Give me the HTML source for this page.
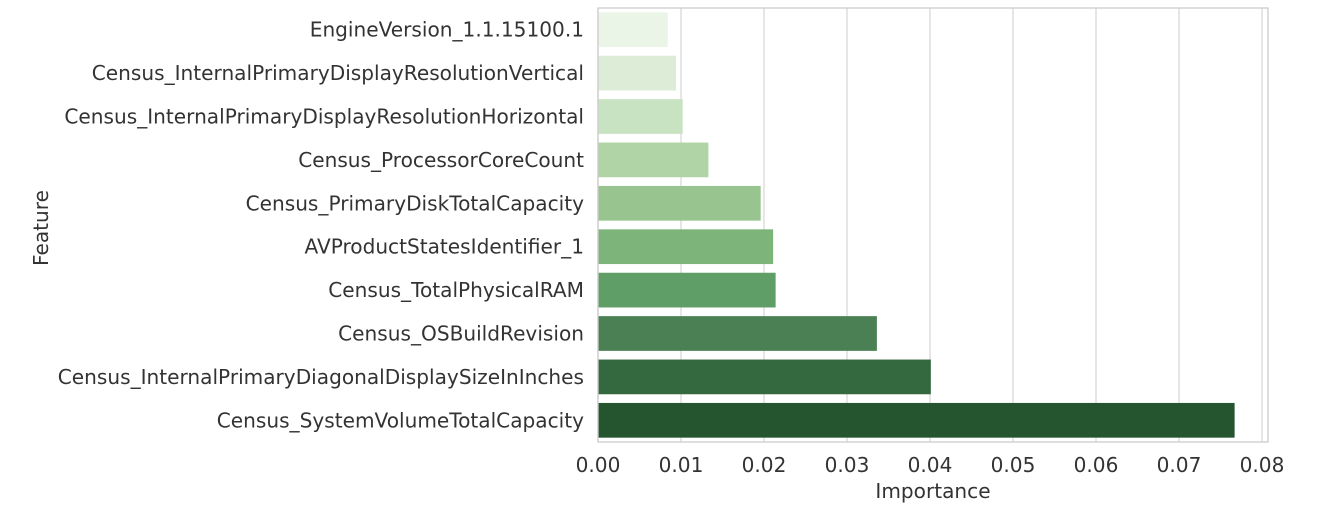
<!DOCTYPE html>
<html><head><meta charset="utf-8"><style>
body{margin:0;background:#fff;}
svg{display:block;font-family:"DejaVu Sans","Liberation Sans",sans-serif;}
</style></head><body>
<svg id="chart" width="1340" height="520"></svg>
<script>
const categories=["EngineVersion_1.1.15100.1","Census_InternalPrimaryDisplayResolutionVertical","Census_InternalPrimaryDisplayResolutionHorizontal","Census_ProcessorCoreCount","Census_PrimaryDiskTotalCapacity","AVProductStatesIdentifier_1","Census_TotalPhysicalRAM","Census_OSBuildRevision","Census_InternalPrimaryDiagonalDisplaySizeInInches","Census_SystemVolumeTotalCapacity"];
const values=[0.0084,0.0094,0.0102,0.0133,0.0196,0.0211,0.0214,0.0336,0.0401,0.0767];
const ticks=[0,0.01,0.02,0.03,0.04,0.05,0.06,0.07,0.08];
const tickLabels=["0.00","0.01","0.02","0.03","0.04","0.05","0.06","0.07","0.08"];
const colors=['#ebf5e7','#dcecd6','#c8e3c1','#b0d4a6','#98c48f','#7db47a','#5f9e66','#4a8054','#34683e','#25552f'];
const NS="http://www.w3.org/2000/svg";
const svg=document.getElementById('chart');
const L=598,R=1268,T=8,B=442;
const x=v=>L+v*8300;
const band=(B-T)/categories.length;
const y=i=>T+i*band;
const FS=20.1;
function mk(t,a){const e=document.createElementNS(NS,t);for(const k in a)e.setAttribute(k,a[k]);svg.appendChild(e);return e;}
ticks.forEach((t,i)=>{
 const g=mk('line',{x1:x(t),x2:x(t),y1:T,y2:B,stroke:'#d9d9d9','stroke-width':1.3});
 
 
 const tx=mk('text',{x:x(t),y:472,'text-anchor':'middle','font-size':FS,fill:'#333'});
 tx.textContent=tickLabels[i];
 
 
});
categories.forEach((c,i)=>{
 const r=mk('rect',{x:x(0),y:y(i)+band*0.1,width:x(values[i])-x(0),height:band*0.8,fill:colors[i]});
 
 
 const t=mk('text',{x:584,y:y(i)+band/2+7,'text-anchor':'end','font-size':FS,fill:'#333'});
 t.textContent=c;
 
 
});
const f=mk('rect',{x:L,y:T,width:R-L,height:B-T,fill:'none',stroke:'#cccccc','stroke-width':1.3});


const xt=mk('text',{x:933,y:498,'text-anchor':'middle','font-size':FS,fill:'#333'});
xt.textContent='Importance';


const yt=mk('text',{x:0,y:0,'text-anchor':'middle','font-size':FS,fill:'#333',transform:'translate(48,228) rotate(-90)'});
yt.textContent='Feature';


</script>
</body></html>
